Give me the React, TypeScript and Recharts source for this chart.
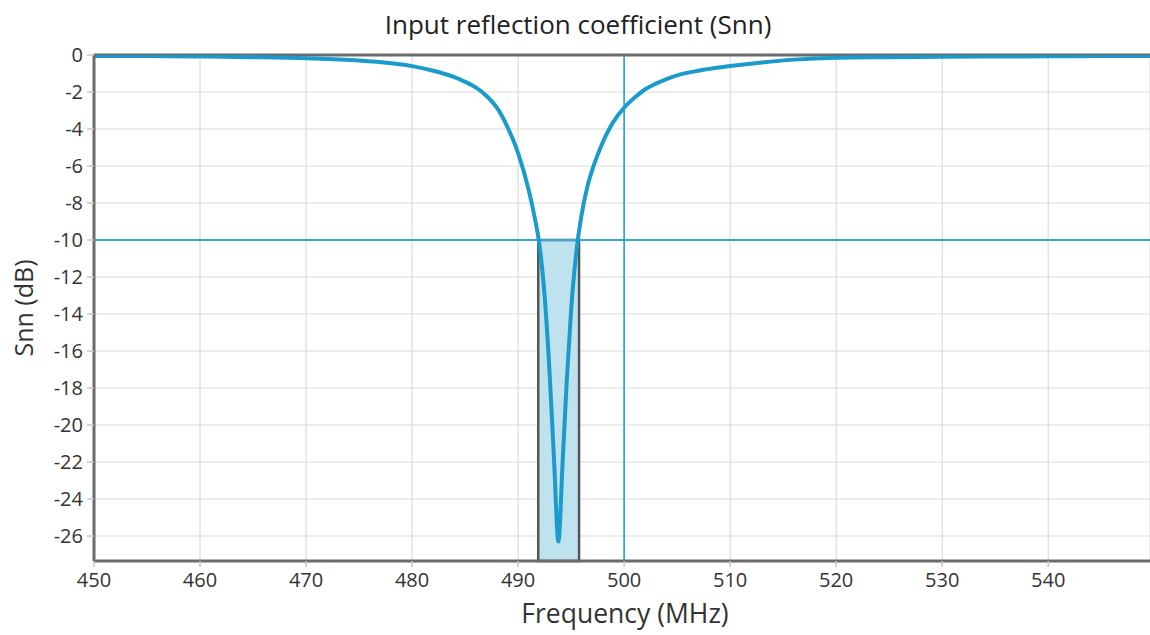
import React from 'react';
import {
  LineChart,
  Line,
  XAxis,
  YAxis,
  CartesianGrid,
  ReferenceLine,
  ReferenceArea,
} from 'recharts';

// frequency (MHz) and Snn (dB)
const freqs = [
  450, 455, 460, 465, 470, 475, 478, 480, 482, 484, 485, 486, 487, 488, 489, 490, 491, 491.5,
  492, 492.5, 493, 493.4, 493.8, 494.2, 494.6, 495, 495.5, 496, 496.5, 497, 497.5, 498, 498.5, 499,
  500, 501, 502, 503, 504, 505, 507, 510, 513, 516, 520, 525, 530, 535, 540, 545, 550,
];
const snn = [
  -0.05, -0.06, -0.08, -0.12, -0.18, -0.3, -0.45, -0.6, -0.85, -1.2, -1.45, -1.75, -2.2, -2.85, -3.9,
  -5.3, -7.3, -8.6, -10.2, -13, -17.5, -22, -26.3, -22, -17.5, -13.8, -10.6, -8.6, -7.2, -6.2, -5.4,
  -4.7, -4.1, -3.6, -2.85, -2.3, -1.85, -1.55, -1.3, -1.1, -0.85, -0.6, -0.4, -0.25, -0.15, -0.12,
  -0.1, -0.08, -0.07, -0.06, -0.05,
];

const xTicks = [450, 460, 470, 480, 490, 500, 510, 520, 530, 540];
const yTicks = [0, -2, -4, -6, -8, -10, -12, -14, -16, -18, -20, -22, -24, -26];

// band where Snn < -10 dB
const bandStart = 491.9;
const bandEnd = 495.75;
const threshold = -10;
const markerFreq = 500;
const yMin = -27.35;

const data = freqs.map((f, i) => ({ f, snn: snn[i] }));

const font = '"Open Sans", "Noto Sans", sans-serif';

const App: React.FC = () => {
  return (
    <div style={{ position: 'absolute', left: 0, top: 0, width: 1150, height: 635, fontFamily: font }}>
      <div
        style={{
          position: 'absolute',
          top: 24,
          left: 578,
          transform: 'translate(-50%, -50%)',
          fontSize: 26,
          color: '#222',
          whiteSpace: 'nowrap',
        }}
      >
        Input reflection coefficient (Snn)
      </div>
      <div
        style={{
          position: 'absolute',
          left: 23,
          top: 308,
          transform: 'translate(-50%, -50%) rotate(-90deg)',
          fontSize: 25,
          color: '#333',
          whiteSpace: 'nowrap',
        }}
      >
        Snn (dB)
      </div>
      <div
        style={{
          position: 'absolute',
          top: 613,
          left: 625,
          transform: 'translate(-50%, -50%)',
          fontSize: 26.5,
          color: '#333',
          whiteSpace: 'nowrap',
        }}
      >
        Frequency (MHz)
      </div>
      <LineChart
        width={1150}
        height={635}
        data={data}
        margin={{ top: 55, right: 0, bottom: 0, left: 0 }}
      >
        <CartesianGrid stroke="#dcdcdc" strokeWidth={1.2} />
        <XAxis
          dataKey="f"
          type="number"
          domain={[450, 549.6]}
          allowDataOverflow
          ticks={xTicks}
          height={74}
          axisLine={{ stroke: '#6b6b6b', strokeWidth: 3 }}
          tickLine={{ stroke: '#c8c8c8', strokeWidth: 1.5 }}
          tickSize={6}
          tickMargin={6}
          tick={{ fill: '#333', fontSize: 20, fontFamily: font }}
        />
        <YAxis
          type="number"
          domain={[yMin, 0]}
          allowDataOverflow
          ticks={yTicks}
          width={94}
          axisLine={{ stroke: '#6b6b6b', strokeWidth: 3 }}
          tickLine={{ stroke: '#c8c8c8', strokeWidth: 1.5 }}
          tickSize={7}
          tickMargin={4}
          tick={{ fill: '#333', fontSize: 20, fontFamily: font }}
        />
        <ReferenceLine y={0} stroke="#6b6b6b" strokeWidth={3} />
        <ReferenceArea
          x1={bandStart}
          x2={bandEnd}
          y1={yMin}
          y2={threshold}
          fill="#bfe3ee"
          fillOpacity={1}
          stroke="#555"
          strokeWidth={2.5}
        />
        <ReferenceLine y={threshold} stroke="#35a8d4" strokeWidth={2} />
        <ReferenceLine x={markerFreq} stroke="#1f9ccc" strokeWidth={1.5} />
        <Line
          type="monotone"
          dataKey="snn"
          stroke="#1a9bcc"
          strokeWidth={4}
          dot={false}
          isAnimationActive={false}
        />
      </LineChart>
    </div>
  );
};

export default App;
